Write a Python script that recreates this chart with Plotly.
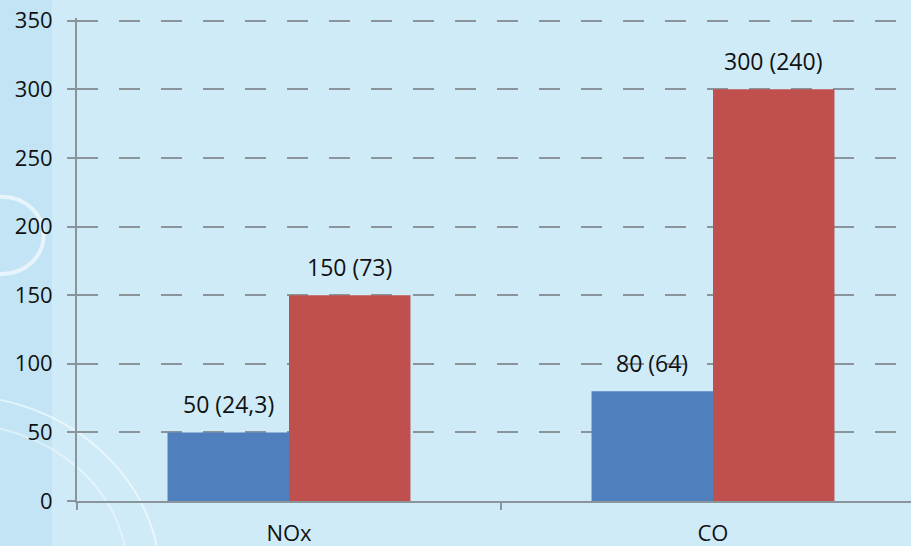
import plotly.graph_objects as go

categories = ["NOx", "CO"]
blue_values = [50, 80]
red_values = [150, 300]
blue_labels = ["50 (24,3)", "80 (64)"]
red_labels = ["150 (73)", "300 (240)"]
y_ticks = [0, 50, 100, 150, 200, 250, 300, 350]

BG = "#cfebf8"
GRID = "#8a949b"
FONT = "Open Sans"
BAR_PX = 121  # width of one bar in pixels (for label offset)

fig = go.Figure()
fig.add_trace(go.Bar(x=categories, y=blue_values, marker_color="#4f7fbd", marker_line_width=0))
fig.add_trace(go.Bar(x=categories, y=red_values, marker_color="#c0504e", marker_line_width=0))

annotations = []
for cat, val, lab in zip(categories, blue_values, blue_labels):
    annotations.append(dict(x=cat, y=val, text=lab, showarrow=False, xshift=-BAR_PX / 2,
                            yanchor="bottom", yshift=10,
                            font=dict(size=23, color="#111111", family=FONT)))
for cat, val, lab in zip(categories, red_values, red_labels):
    annotations.append(dict(x=cat, y=val, text=lab, showarrow=False, xshift=BAR_PX / 2,
                            yanchor="bottom", yshift=10,
                            font=dict(size=23, color="#111111", family=FONT)))

# decorative swirls on the left
shapes = [
    dict(type="rect", xref="paper", yref="paper", x0=-0.093, x1=-0.03, y0=-0.1, y1=1.05,
         fillcolor="rgba(170,215,242,0.35)", line_width=0, layer="below"),
    dict(type="circle", xref="paper", yref="paper", x0=-0.40, x1=0.10, y0=-0.55, y1=0.22,
         line=dict(color="rgba(255,255,255,0.55)", width=2), layer="below"),
    dict(type="circle", xref="paper", yref="paper", x0=-0.35, x1=0.06, y0=-0.45, y1=0.16,
         line=dict(color="rgba(255,255,255,0.4)", width=2), layer="below"),
    dict(type="circle", xref="paper", yref="paper", x0=-0.14, x1=-0.04, y0=0.47, y1=0.63,
         line=dict(color="rgba(255,255,255,0.6)", width=4), layer="below"),
]

fig.update_layout(
    width=911, height=546,
    margin=dict(l=77, r=0, t=18, b=45),
    paper_bgcolor=BG, plot_bgcolor=BG,
    barmode="group", bargap=0.427, bargroupgap=0,
    showlegend=False,
    font=dict(family=FONT, size=22, color="#111111"),
    shapes=shapes,
    annotations=annotations,
    xaxis=dict(range=[-0.5, 1.467], showline=True, linecolor=GRID, linewidth=2,
               ticks="outside", tickson="boundaries", ticklen=7, tickcolor=GRID, tickwidth=1.5,
               showgrid=False, ticklabelstandoff=12,
               tickfont=dict(size=22, color="#111111", family=FONT)),
    yaxis=dict(range=[0, 352], tickvals=y_ticks, showline=True, linecolor=GRID, linewidth=2,
               ticks="outside", ticklen=8, tickcolor=GRID, tickwidth=2,
               showgrid=True, gridcolor=GRID, gridwidth=2, griddash="21px,21px",
               zeroline=False, ticklabelstandoff=10,
               tickfont=dict(size=22, color="#111111", family=FONT)),
)

fig.write_html("out.html", config={"displayModeBar": False},
               post_script="document.body.style.margin='0';document.body.style.overflow='hidden';")
